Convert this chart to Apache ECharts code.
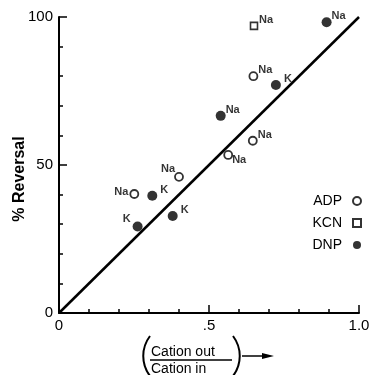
<!DOCTYPE html>
<html>
<head>
<meta charset="utf-8">
<script src="https://cdn.jsdelivr.net/npm/echarts@6/dist/echarts.min.js"></script>
<style>
  html, body { margin: 0; padding: 0; background: #fff; }
  #chart { width: 370px; height: 375px; }
</style>
</head>
<body>
<div id="chart"></div>
<script>
// reversal vs cation ratio
const adpX = [0.648, 0.646, 0.564, 0.40, 0.251];
const adpY = [80, 58.2, 53.4, 46, 40.2];
const adpIon = ['Na', 'Na', 'Na', 'Na', 'Na'];

const kcnX = [0.65];
const kcnY = [97];
const kcnIon = ['Na'];

const dnpX = [0.892, 0.723, 0.539, 0.311, 0.379, 0.262];
const dnpY = [98.2, 77, 66.6, 39.6, 32.8, 29.2];
const dnpIon = ['Na', 'K', 'Na', 'K', 'K', 'K'];

// identity line
const lineX = [0, 1.0];
const lineY = [0, 100];

const xTicks = [0, 0.5, 1.0];
const xTickText = ['0', '.5', '1.0'];
const yTicks = [0, 50, 100];

// where each little ion label sits relative to its mark
const adpPlace = ['ur', 'ur', 'lr', 'ul', 'l'];
const kcnPlace = ['ur'];
const dnpPlace = ['ur', 'ur', 'ur', 'ur', 'ur', 'ul'];

const FONT = '"Liberation Sans", Arial, sans-serif';
const offsets = {
    ur: [12, -6],
    lr: [11, 5],
    ul: [-11, -8],
    l: [-13, -2]
};

function points(xs, ys, ions, places) {
    return xs.map((x, i) => ({
        value: [x, ys[i]],
        label: {
            show: true,
            formatter: ions[i],
            position: 'inside',
            offset: offsets[places[i]],
            color: '#000',
            fontSize: 11,
            fontWeight: 'bold',
            fontFamily: FONT
        }
    }))
}

const chart = echarts.init(document.getElementById('chart'))
chart.setOption({
    animation: false,
    grid: { left: 59, right: 11, top: 17, bottom: 62, outerBoundsMode: 'none' },
    legend: {
        orient: 'vertical',
        right: 3,
        top: 189,
        align: 'right',
        itemGap: 8,
        itemWidth: 8,
        itemHeight: 8,
        data: ['ADP', 'KCN', 'DNP'],
        textStyle: { color: '#000', fontSize: 14, fontFamily: FONT, padding: [0, 6, 0, 0] }
    },
    xAxis: {
        type: 'value',
        min: 0,
        max: 1,
        interval: 0.5,
        splitLine: { show: false },
        axisLine: { onZero: false, lineStyle: { color: '#000', width: 2 } },
        axisTick: { inside: true, length: 8, lineStyle: { color: '#000', width: 1.5 } },
        minorTick: { show: true, splitNumber: 5, length: 4, lineStyle: { color: '#000', width: 1.5 } },
        axisLabel: {
            margin: 5,
            color: '#000',
            fontSize: 15,
            fontFamily: FONT,
            formatter: v => {
                const k = xTicks.findIndex(t => Math.abs(t - v) < 1e-6)
                return k >= 0 ? xTickText[k] : ''
            }
        }
    },
    yAxis: {
        type: 'value',
        min: 0,
        max: 100,
        interval: 50,
        name: '% Reversal',
        nameLocation: 'middle',
        nameGap: 31,
        nameMoveOverlap: false,
        nameTextStyle: { color: '#000', fontSize: 16, fontWeight: 'bold', fontFamily: FONT, padding: [0, 28, 0, 0] },
        splitLine: { show: false },
        axisLine: { onZero: false, lineStyle: { color: '#000', width: 2 } },
        axisTick: { inside: true, length: 8, lineStyle: { color: '#000', width: 1.5 } },
        minorTick: { show: true, splitNumber: 5, length: 4, lineStyle: { color: '#000', width: 1.5 } },
        axisLabel: {
            margin: 6,
            color: '#000',
            fontSize: 15,
            fontFamily: FONT,
            formatter: v => yTicks.indexOf(v) >= 0 ? String(v) : ''
        }
    },
    series: [
        {
            name: 'fit',
            type: 'line',
            data: lineX.map((x, i) => [x, lineY[i]]),
            showSymbol: false,
            lineStyle: { color: '#000', width: 2.5 },
            silent: true,
            z: 1
        },
        {
            name: 'ADP',
            type: 'scatter',
            symbol: 'circle',
            symbolSize: 8,
            itemStyle: { color: '#fff', borderColor: '#000', borderWidth: 1.8 },
            data: points(adpX, adpY, adpIon, adpPlace),
            z: 3
        },
        {
            name: 'KCN',
            type: 'scatter',
            symbol: 'rect',
            symbolSize: 7,
            itemStyle: { color: '#fff', borderColor: '#000', borderWidth: 1.6 },
            data: points(kcnX, kcnY, kcnIon, kcnPlace),
            z: 3
        },
        {
            name: 'DNP',
            type: 'scatter',
            symbol: 'circle',
            symbolSize: 10,
            itemStyle: { color: '#000' },
            data: points(dnpX, dnpY, dnpIon, dnpPlace),
            z: 3
        }
    ],
    graphic: [
        // x axis title: (Cation out / Cation in) with an arrow
        { type: 'text', left: 151, top: 345, style: { text: 'Cation out', font: '14px ' + FONT, fill: '#000' } },
        { type: 'line', shape: { x1: 150, y1: 360, x2: 232, y2: 360 }, style: { stroke: '#000', lineWidth: 1.5 } },
        { type: 'text', left: 151, top: 362, style: { text: 'Cation in', font: '14px ' + FONT, fill: '#000' } },
        { type: 'bezierCurve', shape: { x1: 150, y1: 336, cpx1: 141, cpy1: 348, cpx2: 141, cpy2: 364, x2: 150, y2: 376 }, style: { stroke: '#000', lineWidth: 2, fill: null } },
        { type: 'bezierCurve', shape: { x1: 233, y1: 336, cpx1: 242, cpy1: 348, cpx2: 242, cpy2: 364, x2: 233, y2: 376 }, style: { stroke: '#000', lineWidth: 2, fill: null } },
        { type: 'line', shape: { x1: 242, y1: 356, x2: 264, y2: 356 }, style: { stroke: '#000', lineWidth: 1.5 } },
        { type: 'polygon', shape: { points: [[262, 353], [274, 356], [262, 359]] }, style: { fill: '#000' } }
    ]
})
window.addEventListener('resize', () => chart.resize())
</script>
</body>
</html>
